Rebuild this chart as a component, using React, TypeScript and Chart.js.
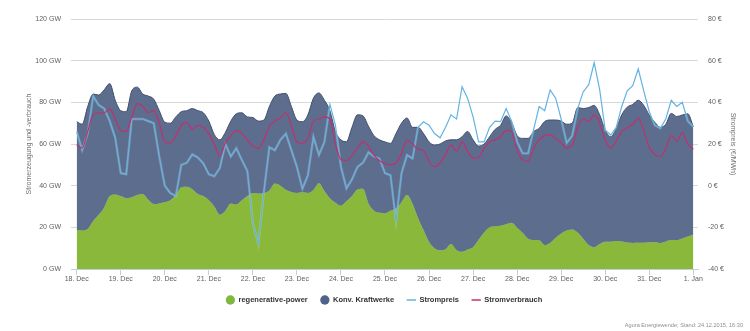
import React, { useEffect, useRef } from 'react';
import { Chart, registerables } from 'chart.js';

Chart.register(...registerables);

const FONT = '"Liberation Sans", Arial, Helvetica, sans-serif';

// x axis: hours since 18 Dec 00:00, one sample every 3 hours
const stunden = Array.from({ length: 113 }, (_, i) => i * 3);

const tagLabels = [
  '18. Dec', '19. Dec', '20. Dec', '21. Dec', '22. Dec', '23. Dec', '24. Dec', '25. Dec',
  '26. Dec', '27. Dec', '28. Dec', '29. Dec', '30. Dec', '31. Dec', '1. Jan',
];
const gwTickLabels = ['0 GW', '20 GW', '40 GW', '60 GW', '80 GW', '100 GW', '120 GW'];
const euroTickLabels = ['-40 €', '-20 €', '0 €', '20 €', '40 €', '60 €', '80 €'];

// GW, renewable generation (bottom area)
const regenerativePower = [
  18.7, 18.5, 19.2, 23, 26, 29.5, 35, 35.8, 35, 34,
  34.5, 35.5, 36, 33.2, 31.2, 31.5, 32, 33, 35.5, 39.2,
  39.5, 38.3, 36, 35, 33, 30, 26, 28, 31.5, 31,
  33, 35, 36.5, 36.2, 36.4, 37.7, 41, 40, 38, 37,
  36.5, 36.8, 36.5, 37.9, 41.2, 37.5, 34, 31.8, 30.4, 32.5,
  35, 38.2, 38.5, 31.5, 28, 27, 26.8, 28, 29, 32,
  35.5, 31.3, 24.5, 18.7, 13, 10, 9, 9.5, 12, 9,
  8.3, 9.4, 10.5, 14, 17.5, 20, 20.5, 20.8, 21.5, 22.2,
  19.8, 17.4, 14.5, 13.9, 13.8, 11.5, 12.5, 15, 17, 18.5,
  19, 17.5, 14.5, 11.5, 10.5, 12, 13.1, 13.1, 13.4, 13.2,
  12.7, 12.5, 12.6, 12.6, 12.8, 13, 12.5, 13.2, 13.9, 13.9,
  14.7, 15.6, 16.6,
];

// GW, total generation = top edge of the "Konv. Kraftwerke" area
const erzeugungGesamt = [
  70.7, 69.5, 78, 84, 83.5, 86, 89, 81, 76, 75.5,
  85.5, 87.3, 84, 83, 81.5, 76, 70.5, 70, 73, 75.5,
  76, 77, 76, 75, 71, 64.5, 62, 65.5, 71, 74.5,
  75, 73, 72.7, 71, 71.5, 78, 83, 84, 84.3, 78,
  71.5, 70.7, 74, 82, 84.5, 81, 76, 66, 62, 61.1,
  68, 74, 73.5, 68.5, 64, 62, 61, 60.3, 65, 70,
  72.5, 68, 68, 65, 61, 59.5, 60, 61.5, 62, 62,
  63.5, 66, 62, 59, 60, 63.5, 67, 69, 73.5, 70.5,
  64, 62.7, 62.7, 66, 67.5, 70.8, 71.5, 71.5, 71, 69.5,
  70, 77.5, 77, 77.5, 78.5, 74, 66.7, 63.5, 67.5, 74,
  77.7, 79, 81, 78.5, 73.9, 70.5, 68, 69.5, 74.7, 73.2,
  73.9, 74.5, 68.3,
];

// GW, consumption
const stromverbrauch = [
  59.5, 58, 66, 74.3, 75, 75, 77, 72, 66.5, 66,
  73, 79.5, 78, 75, 76, 70, 61, 60.5, 64, 69,
  70.3, 67, 69, 68, 65, 60, 54, 60.5, 64, 66.5,
  65, 62, 59, 58, 62, 68.5, 71, 72.5, 75, 69,
  61, 60.3, 63, 71, 72, 73, 72, 60, 52.5, 52,
  54.5, 58, 61, 59, 54.5, 52, 50.5, 50, 51, 55.5,
  61.8, 60, 57.5, 57, 51.5, 49, 51, 55, 59.5, 56.5,
  61, 56.5, 53.2, 53.5, 58, 61, 62, 63.5, 66.5, 66,
  57, 52.5, 51.8, 58, 62, 64, 64.5, 62.7, 60.5, 58,
  59.5, 68, 72, 71, 74, 70, 61.9, 58, 61.5, 66,
  67.8, 69.5, 72.5, 66.5, 58.5, 55, 54, 58, 64, 61.5,
  65.5, 60, 57.5,
];

// €/MWh, price
const strompreis = [
  26, 17, 25, 43, 38.7, 37, 31, 23, 6, 5.5,
  32, 32, 32, 31, 30, 14, 0, -3.5, -5, 10,
  11, 15, 13.5, 10.7, 5.5, 4.5, 8.5, 20, 14, 18,
  12.3, 7, -18, -28, -3, 18.5, 17, 22, 25, 17,
  9, -1.5, 5, 23.5, 14.7, 21, 39, 29, 9, -1.3,
  3, 9, 11, 16, 14, 13, 6, 5, -17, 6,
  14.7, 13, 28, 30.7, 29, 25, 23, 28, 34, 32,
  47.5, 42, 33, 21, 21, 28, 31, 30.7, 37, 31,
  21, 15.5, 15.5, 27, 38, 36, 46, 42, 32, 20.5,
  24, 37, 45, 48.5, 59, 46, 26.7, 24.3, 28, 38,
  45.5, 48, 56, 45.5, 35.5, 29, 27.5, 32, 41, 38,
  40, 31, 28.3,
];

const GREEN = '#89b83b';
const KONV = '#5d6d8e';
const KONV_LINE = '#3f4e6c';
const PREIS = '#62b2e2';
const VERBRAUCH = '#c1306e';

const legendEintraege = [
  { label: 'regenerative-power', color: '#7fb83a', type: 'circle' },
  { label: 'Konv. Kraftwerke', color: '#4f6288', type: 'circle' },
  { label: 'Strompreis', color: PREIS, type: 'line' },
  { label: 'Stromverbrauch', color: VERBRAUCH, type: 'line' },
];
const creditText = 'Agora Energiewende; Stand: 24.12.2015, 16:30';

const extrasPlugin = {
  id: 'extras',
  afterDraw(chart: any) {
    const ctx = chart.ctx as CanvasRenderingContext2D;
    ctx.save();
    ctx.font = `bold 7.5px ${FONT}`;
    ctx.textBaseline = 'middle';
    const sym = 9.3;
    const gapSym = 3.5;
    const gapItems = 12.5;
    const widths = legendEintraege.map((e) => ctx.measureText(e.label).width);
    const total = widths.reduce((a, w) => a + sym + gapSym + w, 0) + gapItems * (legendEintraege.length - 1);
    let x = 384 - total / 2;
    const y = 300;
    legendEintraege.forEach((e, i) => {
      if (e.type === 'circle') {
        ctx.beginPath();
        ctx.fillStyle = e.color;
        ctx.arc(x + sym / 2, y, sym / 2, 0, Math.PI * 2);
        ctx.fill();
      } else {
        ctx.beginPath();
        ctx.strokeStyle = e.color;
        ctx.lineWidth = 1.5;
        ctx.moveTo(x, y);
        ctx.lineTo(x + sym, y);
        ctx.stroke();
      }
      ctx.fillStyle = '#333333';
      ctx.textAlign = 'left';
      ctx.fillText(e.label, x + sym + gapSym, y);
      x += sym + gapSym + widths[i] + gapItems;
    });
    ctx.font = `5.6px ${FONT}`;
    ctx.fillStyle = '#909090';
    ctx.textAlign = 'right';
    ctx.textBaseline = 'alphabetic';
    ctx.fillText(creditText, 743, 327);
    ctx.restore();
  },
};

export default function App() {
  const ref = useRef<HTMLCanvasElement | null>(null);

  useEffect(() => {
    if (!ref.current) return;
    const tickFont = { family: FONT, size: 7 };
    const chart = new Chart(ref.current, {
      type: 'line',
      data: {
        labels: stunden,
        datasets: [
          {
            label: 'regenerative-power',
            data: regenerativePower,
            yAxisID: 'y',
            backgroundColor: GREEN,
            borderColor: GREEN,
            borderWidth: 0.5,
            fill: 'origin',
            pointRadius: 0,
            cubicInterpolationMode: 'monotone',
            order: 4,
          },
          {
            label: 'Konv. Kraftwerke',
            data: erzeugungGesamt,
            yAxisID: 'y',
            backgroundColor: KONV,
            borderColor: KONV_LINE,
            borderWidth: 1,
            fill: 0,
            pointRadius: 0,
            cubicInterpolationMode: 'monotone',
            order: 3,
          },
          {
            label: 'Strompreis',
            data: strompreis,
            yAxisID: 'y1',
            borderColor: PREIS,
            backgroundColor: PREIS,
            borderWidth: 1.2,
            fill: false,
            pointRadius: 0,
            tension: 0,
            order: 1,
          },
          {
            label: 'Stromverbrauch',
            data: stromverbrauch,
            yAxisID: 'y',
            borderColor: VERBRAUCH,
            backgroundColor: VERBRAUCH,
            borderWidth: 1.2,
            fill: false,
            pointRadius: 0,
            cubicInterpolationMode: 'monotone',
            order: 0,
          },
          {
            // faint light edge under the price line (same data)
            label: 'Strompreis-halo',
            data: strompreis,
            yAxisID: 'y1',
            borderColor: 'rgba(255,255,255,0.22)',
            borderWidth: 2.4,
            fill: false,
            pointRadius: 0,
            tension: 0,
            order: 2,
          },
        ],
      },
      options: {
        responsive: false,
        animation: false,
        layout: { padding: { top: 19, left: 0, right: 0, bottom: 42 } },
        plugins: { legend: { display: false }, tooltip: { enabled: false } },
        scales: {
          x: {
            type: 'linear',
            min: -3.1,
            max: 338.56,
            afterFit: (s: any) => { s.height = 20; },
            grid: { display: true, drawOnChartArea: false, drawTicks: true, tickLength: 6, color: '#c0d0e0' },
            border: { display: true, color: '#c0d0e0' },
            ticks: {
              stepSize: 24,
              includeBounds: false,
              autoSkip: false,
              maxRotation: 0,
              padding: 0,
              color: '#606060',
              font: tickFont,
              callback: (v: any) => tagLabels[Math.round(Number(v) / 24)] ?? '',
            },
          },
          y: {
            position: 'left',
            min: 0,
            max: 120,
            afterFit: (s: any) => { s.width = 71; },
            grid: { color: '#d8d8d8', drawTicks: false, lineWidth: 1 },
            border: { display: false },
            ticks: {
              stepSize: 20,
              padding: 10,
              color: '#606060',
              font: tickFont,
              callback: (v: any) => gwTickLabels[Math.round(Number(v) / 20)] ?? '',
            },
            title: {
              display: true,
              text: 'Stromerzeugung und -verbrauch',
              color: '#707070',
              font: { family: FONT, size: 7 },
              padding: { top: 24.8, bottom: 0 },
            },
          },
          y1: {
            position: 'right',
            min: -40,
            max: 80,
            afterFit: (s: any) => { s.width = 52; },
            grid: { display: false, drawTicks: false },
            border: { display: false },
            ticks: {
              stepSize: 20,
              padding: 10,
              color: '#606060',
              font: tickFont,
              callback: (v: any) => euroTickLabels[Math.round((Number(v) + 40) / 20)] ?? '',
            },
            title: {
              display: true,
              text: 'Strompreis (€/MWh)',
              color: '#707070',
              font: { family: FONT, size: 7 },
              padding: { top: 12.8, bottom: 0 },
            },
          },
        },
      } as any,
      plugins: [extrasPlugin],
    } as any);
    return () => chart.destroy();
  }, []);

  return (
    <div style={{ position: 'fixed', left: 0, top: 0, width: 750, height: 331, background: '#ffffff' }}>
      <canvas ref={ref} width={750} height={331} style={{ display: 'block' }} />
    </div>
  );
}
